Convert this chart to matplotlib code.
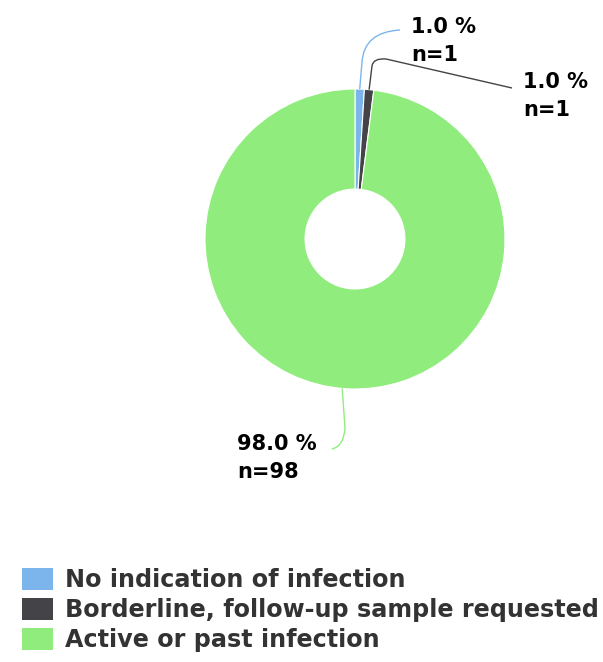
import numpy as np
import matplotlib.pyplot as plt
from matplotlib.patches import Patch, PathPatch
from matplotlib.path import Path

# Data
categories = ['No indication of infection',
              'Borderline, follow-up sample requested',
              'Active or past infection']
counts = [1, 1, 98]
colors = ['#7cb5ec', '#434348', '#90ed7d']

W, H = 603, 662
fig = plt.figure(figsize=(W / 100, H / 100), dpi=100)

# pie center (355, 239) px, radius 150 px
cx, cy, R = 355, 239, 150
ax = fig.add_axes([(cx - R) / W, (H - cy - R) / H, 2 * R / W, 2 * R / H])
wedges, _ = ax.pie(counts, colors=colors, startangle=90, counterclock=False,
                   radius=1, wedgeprops=dict(width=0.667, edgecolor='white', linewidth=0.8))
ax.set_xlim(-1, 1)
ax.set_ylim(-1, 1)
ax.set_aspect('equal')
ax.axis('off')


def px(x, y):
    # pixel position (from top-left) -> data units of the pie axes
    return (x - cx) / R, (cy - y) / R


total = sum(counts)
pcts = [100 * c / total for c in counts]

# label layout in pixels: text left x, first baseline y
label_px = [(411, 33), (523, 88), (237, 450)]
# connector: angle offset at the wedge, vertical leg end, curve control, curve end, optional tail
conn_px = [
    (0, [(362, 62), (364, 32), (400, 30)]),
    (0, [(372, 66), (373, 58), (386, 59), (512, 88)]),
    (-1.3, [(345, 428), (344, 446), (332, 449)]),
]

for w, (lx, ly), (off, pts), p, c, col in zip(wedges, label_px, conn_px, pcts, counts, colors):
    th = np.deg2rad((w.theta1 + w.theta2) / 2 + off)
    verts = [(np.cos(th), np.sin(th))] + [px(*q) for q in pts[:3]]
    codes = [Path.MOVETO, Path.LINETO, Path.CURVE3, Path.CURVE3]
    if len(pts) > 3:
        verts.append(px(*pts[3]))
        codes.append(Path.LINETO)
    ax.add_patch(PathPatch(Path(verts, codes), facecolor='none', edgecolor=col,
                           lw=1.0, clip_on=False))
    tx, ty = px(lx, ly)
    ax.text(tx, ty, f'{p:.1f} %', ha='left', va='baseline', fontsize=15,
            fontweight='bold', color='black', clip_on=False)
    ax.text(tx, ty - 28 / R, f'n={c}', ha='left', va='baseline', fontsize=15,
            fontweight='bold', color='black', clip_on=False)

handles = [Patch(facecolor=col, edgecolor='none') for col in colors]
fig.legend(handles, categories, loc='upper left', bbox_to_anchor=(22 / W, 1 - 568 / H),
           frameon=False, prop={'weight': 'bold', 'size': 17.2},
           handlelength=1.31, handleheight=1.06, handletextpad=0.5, labelspacing=0.24,
           borderaxespad=0, borderpad=0, labelcolor='#333333')

fig.savefig('out.png', dpi=100)
